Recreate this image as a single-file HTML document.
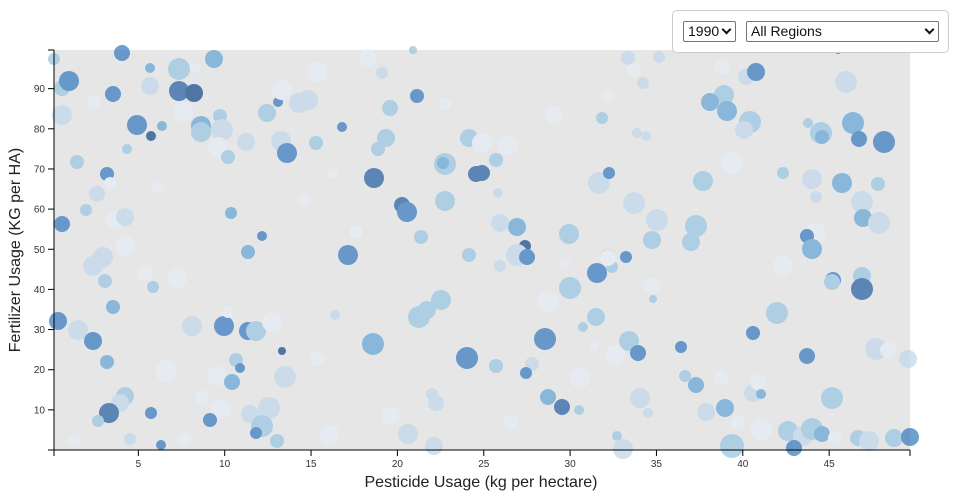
<!DOCTYPE html>
<html><head><meta charset="utf-8"><style>
html,body{margin:0;padding:0;background:#fff;width:960px;height:500px;overflow:hidden;font-family:"Liberation Sans",sans-serif}
.box{position:absolute;left:672px;top:10px;width:275px;height:41px;border:1px solid #ccc;border-radius:5px;background:#fff}
.sel{position:absolute;top:10px;height:21px;border:1px solid #767676;border-radius:2px;font-size:14px;line-height:19px;color:#111;box-sizing:border-box;padding-left:4px;background:#fff}
.sel i{position:absolute;right:5px;top:4px;width:5px;height:5px;border-right:2px solid #111;border-bottom:2px solid #111;transform:rotate(45deg)}
svg{position:absolute;left:0;top:0}
</style></head><body>
<svg width="960" height="500">
<rect x="54" y="50" width="856" height="400" fill="#e6e6e6"/>
<g id="c" opacity="0.75"></g>
<g stroke="#000" fill="none">
<line x1="54" y1="50" x2="54" y2="450"/><line x1="54" y1="450" x2="910" y2="450"/>
</g>
<g id="ax" font-size="10" fill="#333"></g>
<text x="481" y="487" text-anchor="middle" font-size="16" fill="#222">Pesticide Usage (kg per hectare)</text>
<text transform="translate(20,250) rotate(-90)" text-anchor="middle" font-size="16" fill="#222">Fertilizer Usage (KG per HA)</text>
</svg>
<div class="box">
<div class="sel" style="left:10px;width:53px">1990<i></i></div>
<div class="sel" style="left:73px;width:193px">All Regions<i></i></div>
</div>
<script>
var C={dd:"#1e4f8e",d:"#2f65a6",d2:"#3d7fc0",m:"#6aa8d6",l:"#9cc7e2",vl:"#c2d8ea",xl:"#e6edf5"};
var D=[[54,59,6,"l"],[62,88,8,"l"],[69,81,10,"d2"],[122,53,8,"d2"],[150,68,5,"m"],[150,86,9,"vl"],[179,69,11,"l"],[195,68,5,"xl"],[214,59,9,"m"],[62,115,10,"vl"],[94,102,7,"xl"],[113,94,8,"d2"],[179,91,10,"d"],[194,93,9,"dd"],[183,112,10,"xl"],[137,125,10,"d2"],[151,136,5,"dd"],[162,126,5,"m"],[127,149,5,"l"],[201,126,10,"m"],[201,132,10,"l"],[220,116,7,"l"],[222,130,11,"vl"],[218,147,10,"xl"],[228,157,7,"l"],[246,142,9,"vl"],[267,113,9,"l"],[278,102,5,"d2"],[282,90,10,"xl"],[299,103,10,"vl"],[308,100,10,"vl"],[317,72,10,"xl"],[281,141,10,"vl"],[287,153,10,"d2"],[316,143,7,"l"],[342,127,5,"d2"],[368,58,9,"xl"],[382,73,6,"vl"],[413,50,4,"l"],[417,96,7,"d2"],[390,108,8,"l"],[445,104,6,"xl"],[386,138,9,"l"],[378,149,7,"l"],[469,138,9,"l"],[374,178,10,"d"],[445,164,11,"l"],[443,163,6,"m"],[476,174,8,"d"],[333,174,5,"xl"],[305,200,6,"xl"],[402,205,8,"d"],[407,212,10,"d2"],[445,201,10,"l"],[421,237,7,"l"],[356,232,7,"xl"],[348,255,10,"d2"],[469,255,7,"l"],[248,252,7,"m"],[262,236,5,"d2"],[231,213,6,"m"],[77,162,7,"l"],[107,174,7,"d2"],[110,183,6,"xl"],[97,194,8,"vl"],[86,210,6,"l"],[62,224,8,"d2"],[115,220,9,"xl"],[125,217,9,"vl"],[125,246,10,"xl"],[158,187,6,"xl"],[103,257,10,"vl"],
[102,258,10,"vl"],[93,266,10,"vl"],[105,281,7,"l"],[145,273,8,"xl"],[153,287,6,"l"],[177,278,10,"xl"],[113,307,7,"m"],[58,321,9,"d2"],[78,330,10,"vl"],[93,341,9,"d2"],[107,362,7,"m"],[125,396,9,"l"],[120,403,9,"vl"],[109,413,10,"d"],[98,421,6,"l"],[151,413,6,"d2"],[130,439,6,"vl"],[74,441,6,"xl"],[161,445,5,"d2"],[185,439,7,"xl"],[166,371,11,"xl"],[192,326,10,"vl"],[224,326,10,"d2"],[228,312,6,"xl"],[248,331,9,"d2"],[256,331,10,"l"],[272,322,10,"xl"],[282,351,4,"dd"],[236,360,7,"l"],[240,368,5,"d2"],[217,376,10,"xl"],[232,382,8,"m"],[202,397,7,"xl"],[221,409,10,"xl"],[250,414,9,"vl"],[269,408,11,"vl"],[262,426,11,"l"],[256,433,6,"d2"],[210,420,7,"d2"],[277,441,7,"l"],[285,377,11,"vl"],[317,359,7,"xl"],[335,315,5,"vl"],[373,344,11,"m"],[390,416,9,"xl"],[329,435,10,"xl"],[408,434,10,"vl"],[434,446,9,"vl"],[432,394,6,"vl"],[436,403,8,"vl"],[419,317,11,"l"],[427,310,9,"l"],[441,300,10,"l"],[467,358,11,"d2"],
[628,58,7,"vl"],[634,70,7,"xl"],[643,83,6,"vl"],[659,57,6,"vl"],[608,96,7,"xl"],[554,115,9,"xl"],[602,118,6,"l"],[637,133,5,"vl"],[646,136,5,"vl"],[722,67,8,"xl"],[746,77,8,"vl"],[756,72,9,"d2"],[724,95,10,"l"],[710,102,9,"m"],[727,111,10,"m"],[750,122,11,"l"],[744,130,9,"vl"],[846,82,11,"vl"],[808,123,5,"l"],[821,133,11,"l"],[822,137,7,"m"],[853,123,11,"m"],[859,139,8,"d2"],[884,142,11,"d2"],[838,50,4,"d2"],[732,163,11,"xl"],[703,181,10,"l"],[783,173,6,"l"],[812,179,10,"vl"],[842,183,10,"m"],[816,197,6,"vl"],[878,184,7,"l"],[862,202,11,"vl"],[863,218,9,"m"],[879,223,11,"vl"],[816,233,10,"xl"],[807,236,7,"d2"],[812,249,10,"m"],[696,226,11,"l"],[691,242,9,"l"],[634,203,11,"vl"],[657,220,11,"vl"],[652,240,9,"l"],[599,183,11,"vl"],[609,173,6,"d2"],[569,234,10,"l"],[517,227,9,"m"],[500,223,9,"vl"],[525,246,6,"dd"],[517,255,11,"vl"],[527,257,8,"d2"],[626,257,6,"d2"],[608,257,8,"vl"],[482,173,8,"d"],[498,193,5,"vl"],[496,160,7,"l"],[508,145,10,"xl"],[482,143,10,"xl"],
[500,266,6,"vl"],[612,267,6,"l"],[565,263,5,"xl"],[608,258,8,"xl"],[597,273,10,"d2"],[570,288,11,"l"],[548,302,11,"xl"],[652,286,8,"xl"],[653,299,4,"l"],[596,317,9,"l"],[583,327,5,"l"],[545,339,11,"d2"],[594,346,5,"xl"],[615,355,10,"xl"],[629,341,10,"l"],[638,353,8,"d2"],[496,366,7,"l"],[532,364,7,"vl"],[526,373,6,"d2"],[580,378,10,"xl"],[548,397,8,"m"],[562,407,8,"d"],[579,410,5,"l"],[640,398,10,"vl"],[648,413,5,"vl"],[511,422,7,"xl"],[617,436,5,"l"],[623,449,10,"vl"],[681,347,6,"d2"],[685,376,6,"l"],[696,385,8,"m"],[721,378,7,"xl"],[706,412,9,"vl"],[725,408,9,"m"],[738,423,7,"xl"],[732,446,12,"l"],[753,393,9,"vl"],[758,382,8,"xl"],[761,394,5,"m"],[761,429,11,"xl"],[783,266,10,"xl"],[777,313,11,"l"],[753,333,7,"d2"],[807,356,8,"d2"],[833,280,8,"d2"],[832,282,8,"l"],[862,276,9,"l"],[862,289,11,"d"],[876,349,11,"vl"],[888,350,8,"xl"],[908,359,9,"vl"],[832,398,11,"l"],[788,431,10,"l"],[803,436,10,"vl"],[812,429,11,"l"],[822,434,8,"m"],[794,448,8,"d2"],[835,438,7,"xl"],[858,438,8,"l"],[869,441,10,"vl"],[894,438,9,"l"],[910,437,9,"d2"]];
var ns="http://www.w3.org/2000/svg",g=document.getElementById("c");
D.forEach(function(d){var c=document.createElementNS(ns,"circle");c.setAttribute("cx",d[0]);c.setAttribute("cy",d[1]);c.setAttribute("r",d[2]);c.setAttribute("fill",C[d[3]]);g.appendChild(c);});
var ax=document.getElementById("ax"),s="";
for(var v=0;v<=50;v+=5){var x=52+17.27*v;if(v==50)x=910;if(v==0)x=54;s+='<line x1="'+x+'" y1="450" x2="'+x+'" y2="456" stroke="#000"/>';if(v>0&&v<50)s+='<text x="'+x+'" y="467" text-anchor="middle">'+v+'</text>';}
for(var v=0;v<=100;v+=10){var y=450-4.015*v;if(v==100)y=50;s+='<line x1="48" y1="'+y+'" x2="54" y2="'+y+'" stroke="#000"/>';if(v>0&&v<100)s+='<text x="45" y="'+(y+3.5)+'" text-anchor="end">'+v+'</text>';}
ax.innerHTML=s;
</script>
</body></html>
